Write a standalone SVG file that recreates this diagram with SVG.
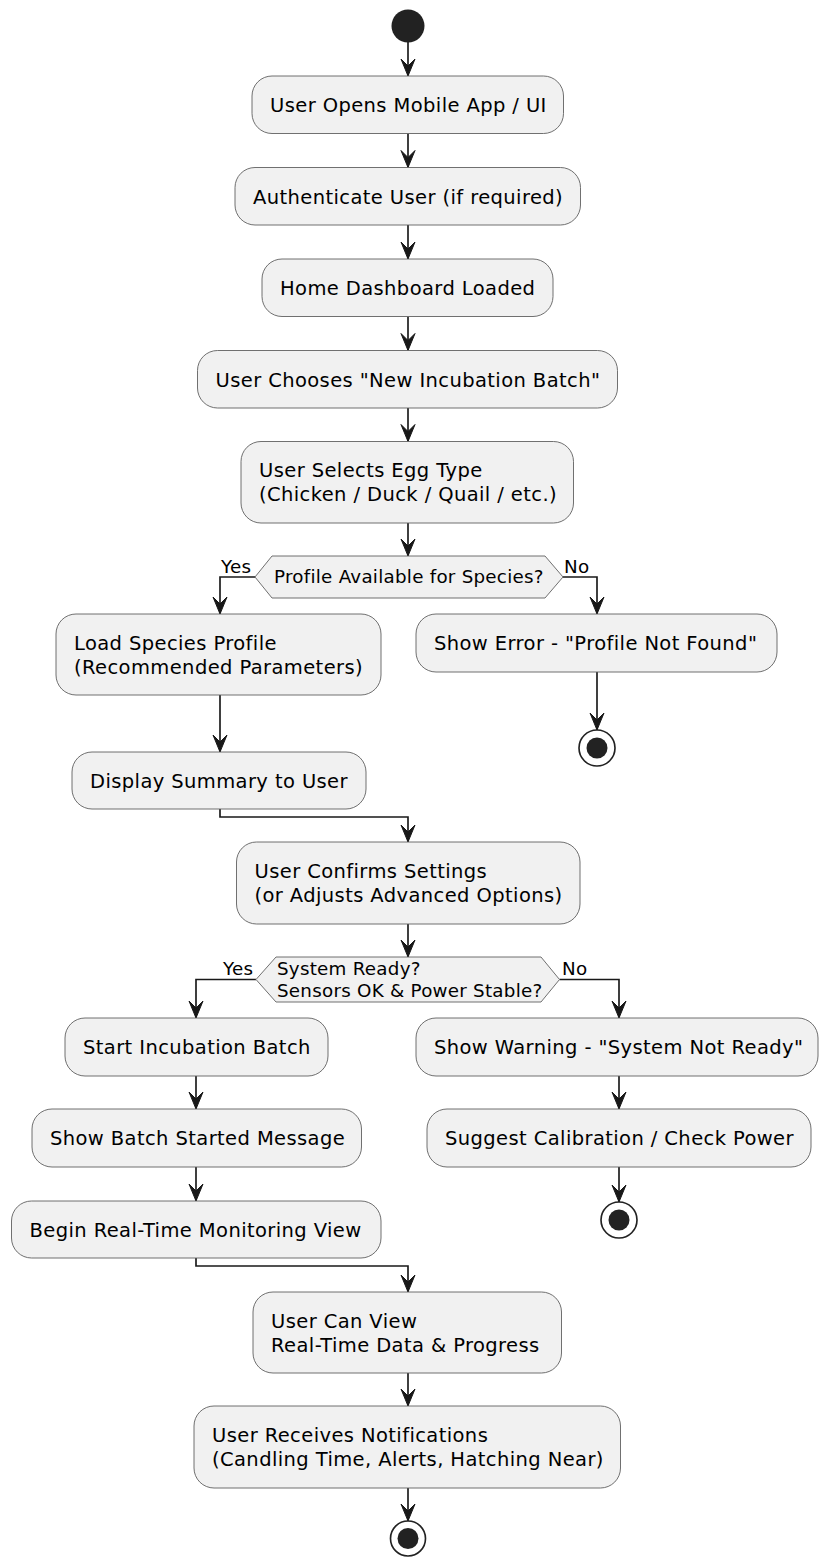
<svg xmlns="http://www.w3.org/2000/svg" width="819" height="1557" viewBox="0 0 819 1557">
<defs>
<style>
.box{fill:#F1F1F1;stroke:#606060;stroke-width:0.9}
.dia{fill:#F1F1F1;stroke:#606060;stroke-width:0.9}
.t{font-family:"DejaVu Sans",sans-serif;font-size:19.5px;letter-spacing:0.4px;fill:#000}
.d{font-family:"DejaVu Sans",sans-serif;font-size:18.3px;letter-spacing:0.25px;fill:#000}
.edge{fill:none;stroke:#181818;stroke-width:1.65}
.start{fill:#222222}
.endo{fill:none;stroke:#222222;stroke-width:1.65}
.endi{fill:#222222}
</style>
<marker id="ah" markerUnits="userSpaceOnUse" markerWidth="20" markerHeight="20" refX="0" refY="0" orient="auto" overflow="visible">
<path d="M0,0 L-17,-7 L-10,0 L-17,7 Z" fill="#181818" stroke="#181818" stroke-width="1" stroke-linejoin="miter"/>
</marker>
</defs>
<rect width="819" height="1557" fill="#FFFFFF"/>
<g id="connectors">
<path class="edge" d="M408,42 V76" marker-end="url(#ah)"/>
<path class="edge" d="M408,133.5 V167.5" marker-end="url(#ah)"/>
<path class="edge" d="M408,225 V259" marker-end="url(#ah)"/>
<path class="edge" d="M408,316.5 V350.5" marker-end="url(#ah)"/>
<path class="edge" d="M408,408 V441.5" marker-end="url(#ah)"/>
<path class="edge" d="M408,523 V556" marker-end="url(#ah)"/>
<path class="edge" d="M255,577 H220 V614" marker-end="url(#ah)"/>
<path class="edge" d="M563,577 H597 V614" marker-end="url(#ah)"/>
<path class="edge" d="M597,672 V730" marker-end="url(#ah)"/>
<path class="edge" d="M220,695 V752" marker-end="url(#ah)"/>
<path class="edge" d="M220,809 V817 H408 V842" marker-end="url(#ah)"/>
<path class="edge" d="M408,924 V957" marker-end="url(#ah)"/>
<path class="edge" d="M256,979.5 H196 V1018" marker-end="url(#ah)"/>
<path class="edge" d="M559.5,979.5 H619 V1018" marker-end="url(#ah)"/>
<path class="edge" d="M196,1076 V1109" marker-end="url(#ah)"/>
<path class="edge" d="M196,1167 V1201" marker-end="url(#ah)"/>
<path class="edge" d="M196,1258 V1266 H408 V1292" marker-end="url(#ah)"/>
<path class="edge" d="M619,1076 V1109" marker-end="url(#ah)"/>
<path class="edge" d="M619,1167 V1202" marker-end="url(#ah)"/>
<path class="edge" d="M408,1373 V1406" marker-end="url(#ah)"/>
<path class="edge" d="M408,1488 V1521" marker-end="url(#ah)"/>
<text class="d" x="221" y="573">Yes</text>
<text class="d" x="564" y="573">No</text>
<text class="d" x="223" y="975">Yes</text>
<text class="d" x="562" y="975">No</text>
</g>
<g id="start"><circle class="start" cx="408" cy="26" r="16.5"/></g>
<g id="n1"><rect class="box" x="252" y="76" width="311.5" height="57.5" rx="20"/><text class="t" x="270" y="112">User Opens Mobile App / UI</text></g>
<g id="n2"><rect class="box" x="235" y="167.5" width="345.5" height="57.5" rx="20"/><text class="t" x="253" y="203.5">Authenticate User (if required)</text></g>
<g id="n3"><rect class="box" x="262" y="259" width="291" height="57.5" rx="20"/><text class="t" x="280" y="295">Home Dashboard Loaded</text></g>
<g id="n4"><rect class="box" x="197.5" y="350.5" width="420" height="57.5" rx="20"/><text class="t" x="215.5" y="386.5">User Chooses "New Incubation Batch"</text></g>
<g id="n5"><rect class="box" x="241" y="441.5" width="332.5" height="81.5" rx="20"/><text class="t" x="259" y="477">User Selects Egg Type</text><text class="t" x="259" y="501">(Chicken / Duck / Quail / etc.)</text></g>
<g id="d1"><polygon class="dia" points="255,577 272,556 545,556 563,577 545,598 272,598"/><text class="d" x="274" y="583">Profile Available for Species?</text></g>
<g id="n6"><rect class="box" x="56" y="614" width="325" height="81" rx="20"/><text class="t" x="74" y="649.5">Load Species Profile</text><text class="t" x="74" y="673.5">(Recommended Parameters)</text></g>
<g id="n7"><rect class="box" x="416" y="614" width="361" height="58" rx="20"/><text class="t" x="434" y="649.5">Show Error - "Profile Not Found"</text></g>
<g id="end1"><circle class="endo" cx="597" cy="748" r="18"/><circle class="endi" cx="597" cy="748" r="10.5"/></g>
<g id="n8"><rect class="box" x="72" y="752" width="294" height="57" rx="20"/><text class="t" x="90" y="787.5">Display Summary to User</text></g>
<g id="n9"><rect class="box" x="236.5" y="842" width="343.5" height="82" rx="20"/><text class="t" x="254.5" y="877.5">User Confirms Settings</text><text class="t" x="254.5" y="901.5">(or Adjusts Advanced Options)</text></g>
<g id="d2"><polygon class="dia" points="256,979.5 276,957 541,957 559.5,979.5 541,1002 276,1002"/><text class="d" x="277" y="975">System Ready?</text><text class="d" x="277" y="997">Sensors OK &amp; Power Stable?</text></g>
<g id="n10"><rect class="box" x="65" y="1018" width="263" height="58" rx="20"/><text class="t" x="83" y="1053.5">Start Incubation Batch</text></g>
<g id="n11"><rect class="box" x="416" y="1018" width="402" height="58" rx="20"/><text class="t" x="434" y="1053.5">Show Warning - "System Not Ready"</text></g>
<g id="n12"><rect class="box" x="32" y="1109" width="329.5" height="58" rx="20"/><text class="t" x="50" y="1144.5">Show Batch Started Message</text></g>
<g id="n13"><rect class="box" x="427" y="1109" width="384" height="58" rx="20"/><text class="t" x="445" y="1144.5">Suggest Calibration / Check Power</text></g>
<g id="n14"><rect class="box" x="11.5" y="1201" width="369.5" height="57" rx="20"/><text class="t" x="29.5" y="1236.5">Begin Real-Time Monitoring View</text></g>
<g id="end2"><circle class="endo" cx="619" cy="1220" r="18"/><circle class="endi" cx="619" cy="1220" r="10.5"/></g>
<g id="n15"><rect class="box" x="253" y="1292" width="308.5" height="81" rx="20"/><text class="t" x="271" y="1327.5">User Can View</text><text class="t" x="271" y="1351.5">Real-Time Data &amp; Progress</text></g>
<g id="n16"><rect class="box" x="194" y="1406" width="426.5" height="82" rx="20"/><text class="t" x="212" y="1441.5">User Receives Notifications</text><text class="t" x="212" y="1465.5">(Candling Time, Alerts, Hatching Near)</text></g>
<g id="end3"><circle class="endo" cx="408" cy="1538.5" r="17.5"/><circle class="endi" cx="408" cy="1538.5" r="10.5"/></g>
</svg>
